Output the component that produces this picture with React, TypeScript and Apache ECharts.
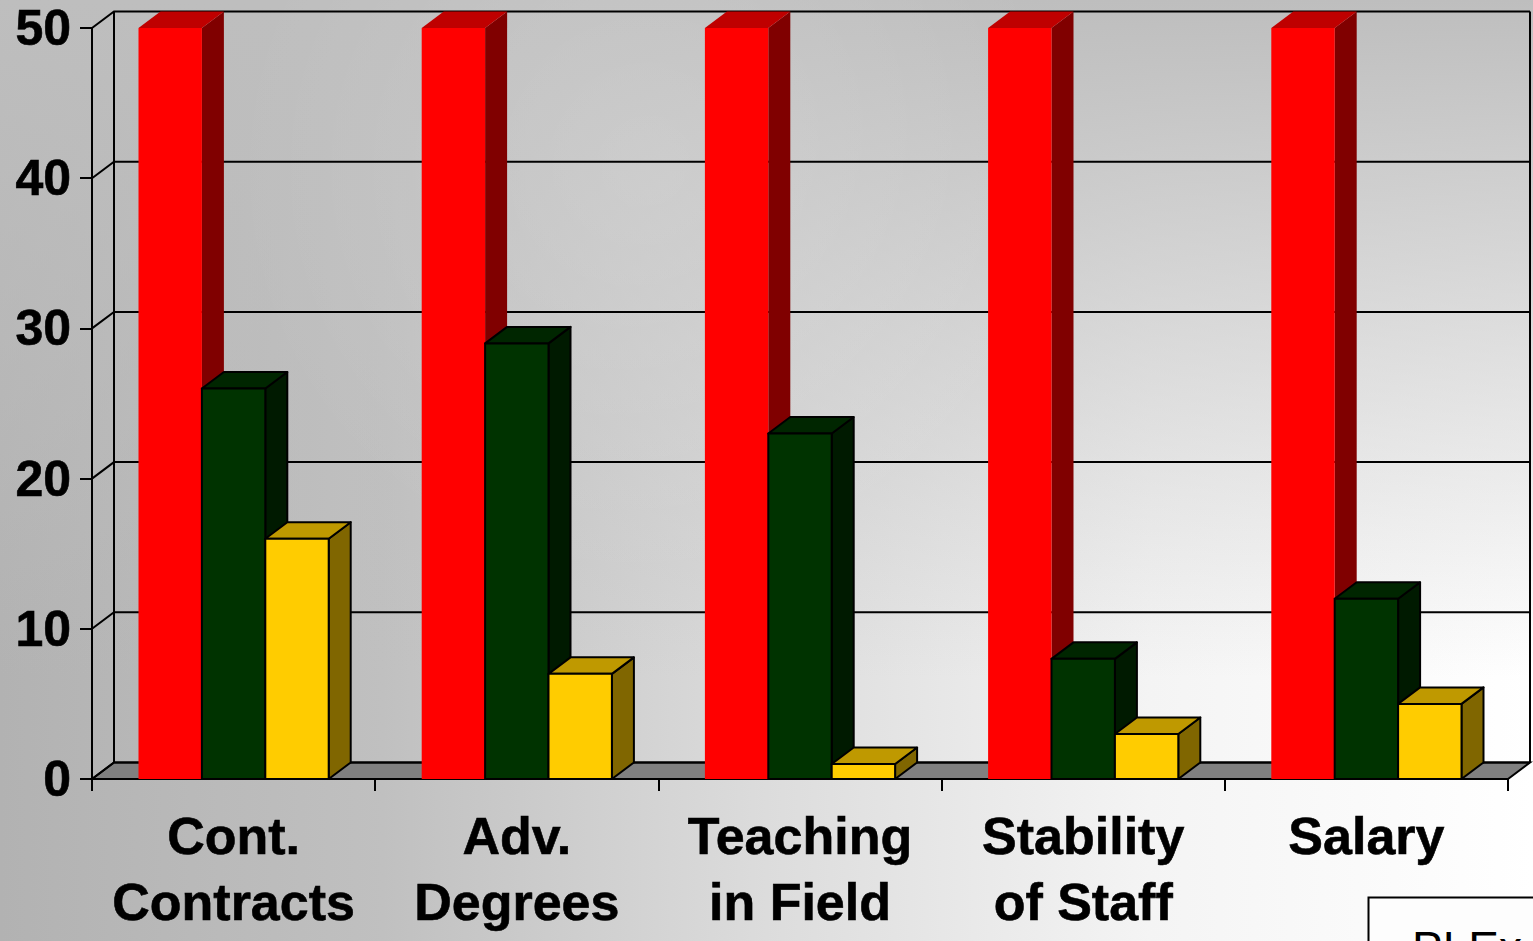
import React, { useEffect, useRef } from "react";
import * as echarts from "echarts";

const categories = ["Cont.\nContracts", "Adv.\nDegrees", "Teaching\nin Field", "Stability\nof Staff", "Salary"];
const redValues = [50, 50, 50, 50, 50];
const greenValues = [26, 29, 23, 8, 12];
const yellowValues = [16, 7, 1, 3, 5];
const yTicks = [0, 10, 20, 30, 40, 50];

const DEPTH_X = 22;
const DEPTH_Y = 16.5;
const BAR_WIDTH = 63.4;
const LINE = 2;

// Perspective box for one bar: front face, lit top, shaded right side.
function boxRenderer(offset: number, front: string, top: string, side: string, edge: string | null) {
  return (params: any, api: any) => {
    const base = api.coord([api.value(0), 0]);
    const head = api.coord([api.value(0), api.value(1)]);
    const x0 = base[0] + offset * BAR_WIDTH - BAR_WIDTH / 2;
    const x1 = x0 + BAR_WIDTH;
    const y0 = base[1];
    const y1 = head[1];
    const stroke = edge ? { stroke: edge, lineWidth: LINE, lineJoin: "round" } : { stroke: "none" };
    return {
      type: "group",
      children: [
        {
          type: "polygon",
          shape: { points: [[x1, y0], [x1, y1], [x1 + DEPTH_X, y1 - DEPTH_Y], [x1 + DEPTH_X, y0 - DEPTH_Y]] },
          style: { fill: side, ...stroke },
        },
        {
          type: "polygon",
          shape: { points: [[x0, y1], [x1, y1], [x1 + DEPTH_X, y1 - DEPTH_Y], [x0 + DEPTH_X, y1 - DEPTH_Y]] },
          style: { fill: top, ...stroke },
        },
        {
          type: "rect",
          shape: { x: x0, y: y1, width: BAR_WIDTH, height: y0 - y1 },
          style: { fill: front, ...stroke },
        },
      ],
    };
  };
}

// Floor, wall edges and the gridlines that wrap from the axis on to the back wall.
function wallRenderer(params: any, api: any) {
  const cs = params.coordSys;
  const left = cs.x;
  const right = cs.x + cs.width;
  const y = api.coord([0, api.value(0)])[1];
  const line = { stroke: "#000", lineWidth: LINE, fill: "none" };
  const children: any[] = [
    {
      type: "polyline",
      shape: { points: [[left, y], [left + DEPTH_X, y - DEPTH_Y], [right + DEPTH_X, y - DEPTH_Y]] },
      style: line,
    },
  ];
  if (api.value(0) === 0) {
    const topY = api.coord([0, 50])[1];
    children.unshift({
      type: "polygon",
      shape: { points: [[left, y], [left + DEPTH_X, y - DEPTH_Y], [right + DEPTH_X, y - DEPTH_Y], [right, y]] },
      style: { fill: "#808080", stroke: "#000", lineWidth: LINE },
    });
    for (const x of [left + DEPTH_X, right + DEPTH_X]) {
      children.push({
        type: "line",
        shape: { x1: x, y1: y - DEPTH_Y, x2: x, y2: topY - DEPTH_Y },
        style: line,
      });
    }
  }
  return { type: "group", children };
}

export default function App() {
  const ref = useRef<HTMLDivElement>(null);

  useEffect(() => {
    const chart = echarts.init(ref.current!, undefined, { renderer: "svg" });
    const bar = (name: string, values: number[], offset: number, f: string, t: string, s: string, e: string | null) => ({
      type: "custom",
      name,
      clip: false,
      data: values.map((v, i) => [i, v]),
      encode: { x: 0, y: 1 },
      renderItem: boxRenderer(offset, f, t, s, e),
      z: 3,
    });
    chart.setOption({
      animation: false,
      // Slide backdrop: brightens to the right, with a grey veil that fades out downwards.
      backgroundColor: {
        type: "linear",
        x: 0,
        y: 0,
        x2: 1,
        y2: 0,
        colorStops: [
          { offset: 0, color: "#b2b2b2" },
          { offset: 0.25, color: "#c0c0c0" },
          { offset: 0.5, color: "#dcdcdc" },
          { offset: 0.75, color: "#f4f4f4" },
          { offset: 1, color: "#ffffff" },
        ],
      },
      grid: { left: 92, right: 25, top: 28, bottom: 162 },
      graphic: [
        {
          type: "rect",
          z: -2,
          silent: true,
          shape: { x: 0, y: 0, width: 1533, height: 941 },
          style: {
            fill: {
              type: "linear",
              x: 0,
              y: 0,
              x2: 0,
              y2: 1,
              colorStops: [
                { offset: 0, color: "rgba(190,190,190,1)" },
                { offset: 0.72, color: "rgba(190,190,190,0)" },
                { offset: 1, color: "rgba(190,190,190,0)" },
              ],
            },
          },
        },
        {
          type: "circle",
          z: -1,
          silent: true,
          shape: { cx: 650, cy: 170, r: 420 },
          style: {
            fill: {
              type: "radial",
              x: 0.5,
              y: 0.5,
              r: 0.5,
              colorStops: [
                { offset: 0, color: "rgba(255,255,255,0.16)" },
                { offset: 1, color: "rgba(255,255,255,0)" },
              ],
            },
          },
        },
        {
          type: "rect",
          z: 10,
          shape: { x: 1368.5, y: 897.5, width: 200, height: 80 },
          style: { fill: "#fdfdfd", stroke: "#000", lineWidth: LINE },
        },
        {
          type: "text",
          z: 11,
          x: 1412,
          y: 925,
          style: { text: "PLEx", fill: "#000", font: "46px 'Liberation Sans'" },
        },
      ],
      xAxis: {
        type: "category",
        data: categories,
        boundaryGap: true,
        axisLine: { lineStyle: { color: "#000", width: LINE } },
        axisTick: { show: true, alignWithLabel: false, length: 12, lineStyle: { color: "#000", width: LINE } },
        axisLabel: {
          interval: 0,
          margin: 24,
          color: "#000",
          fontFamily: "Liberation Sans",
          fontWeight: "bold",
          fontSize: 52,
          lineHeight: 66,
          textBorderColor: "#000",
          textBorderWidth: 0.6,
        },
      },
      yAxis: {
        type: "value",
        min: 0,
        max: 50,
        interval: 10,
        axisLine: { show: true, lineStyle: { color: "#000", width: LINE } },
        axisTick: { show: true, length: 12, lineStyle: { color: "#000", width: LINE } },
        splitLine: { show: false },
        axisLabel: {
          margin: 21,
          color: "#000",
          fontFamily: "Liberation Sans",
          fontWeight: "bold",
          fontSize: 50,
          padding: [3, 0, 0, 0],
          textBorderColor: "#000",
          textBorderWidth: 0.6,
        },
      },
      series: [
        {
          type: "custom",
          name: "wall",
          clip: false,
          silent: true,
          z: 1,
          data: yTicks.map((v) => [v]),
          encode: { y: 0 },
          renderItem: wallRenderer,
        },
        bar("Red", redValues, -1, "#ff0000", "#bf0000", "#800000", null),
        bar("Green", greenValues, 0, "#003300", "#002600", "#001a00", "#000000"),
        bar("Yellow", yellowValues, 1, "#ffcc00", "#bf9900", "#806600", "#000000"),
      ],
    });
    return () => chart.dispose();
  }, []);

  return <div ref={ref} style={{ position: "fixed", left: 0, top: 0, width: 1533, height: 941 }} />;
}
